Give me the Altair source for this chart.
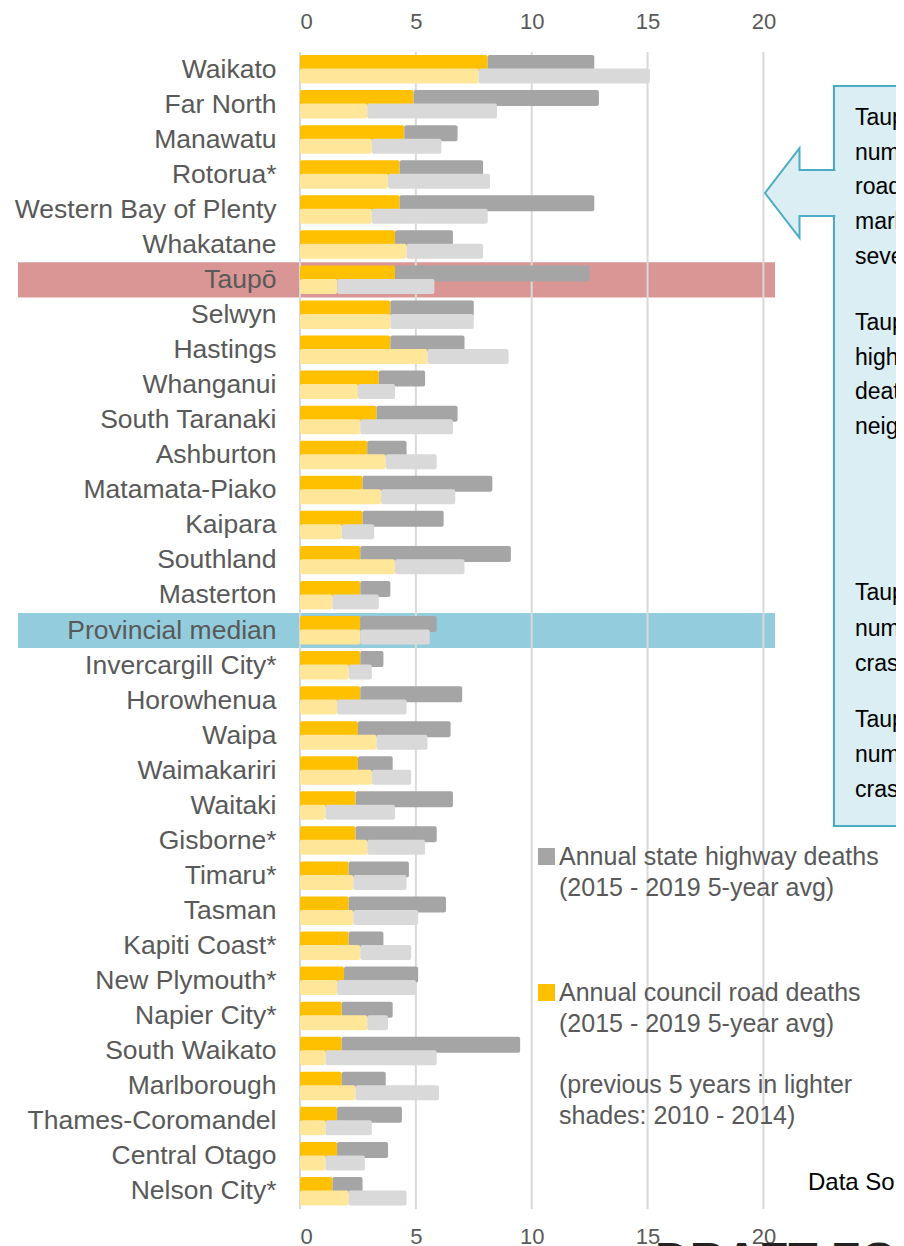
import altair as alt
import pandas as pd

# ---------------- data ----------------
districts = [
    "Waikato", "Far North", "Manawatu", "Rotorua*", "Western Bay of Plenty",
    "Whakatane", "Taupō", "Selwyn", "Hastings", "Whanganui", "South Taranaki",
    "Ashburton", "Matamata-Piako", "Kaipara", "Southland", "Masterton",
    "Provincial median", "Invercargill City*", "Horowhenua", "Waipa",
    "Waimakariri", "Waitaki", "Gisborne*", "Timaru*", "Tasman",
    "Kapiti Coast*", "New Plymouth*", "Napier City*", "South Waikato",
    "Marlborough", "Thames-Coromandel", "Central Otago", "Nelson City*",
]
# 2015 - 2019 5-year averages
council_1519 = [8.1, 4.9, 4.5, 4.3, 4.3, 4.1, 4.1, 3.9, 3.9, 3.4, 3.3,
                2.9, 2.7, 2.7, 2.6, 2.6, 2.6, 2.6, 2.6, 2.5, 2.5, 2.4,
                2.4, 2.1, 2.1, 2.1, 1.9, 1.8, 1.8, 1.8, 1.6, 1.6, 1.4]
state_hwy_1519 = [4.6, 8.0, 2.3, 3.6, 8.4, 2.5, 8.4, 3.6, 3.2, 2.0, 3.5,
                  1.7, 5.6, 3.5, 6.5, 1.3, 3.3, 1.0, 4.4, 4.0, 1.5, 4.2,
                  3.5, 2.6, 4.2, 1.5, 3.2, 2.2, 7.7, 1.9, 2.8, 2.2, 1.3]
# 2010 - 2014 5-year averages (lighter shades)
council_1014 = [7.7, 2.9, 3.1, 3.8, 3.1, 4.6, 1.6, 3.9, 5.5, 2.5, 2.6,
                3.7, 3.5, 1.8, 4.1, 1.4, 2.6, 2.1, 1.6, 3.3, 3.1, 1.1,
                2.9, 2.3, 2.3, 2.6, 1.6, 2.9, 1.1, 2.4, 1.1, 1.1, 2.1]
state_hwy_1014 = [7.4, 5.6, 3.0, 4.4, 5.0, 3.3, 4.2, 3.6, 3.5, 1.6, 4.0,
                  2.2, 3.2, 1.4, 3.0, 2.0, 3.0, 1.0, 3.0, 2.2, 1.7, 3.0,
                  2.5, 2.3, 2.8, 2.2, 3.4, 0.9, 4.8, 3.6, 2.0, 1.7, 2.5]

x_ticks = [0, 5, 10, 15, 20]
periods = ["2015-2019", "2010-2014"]
parts = ["2015-2019 council", "2015-2019 state highway",
         "2010-2014 council", "2010-2014 state highway"]
part_colors = ["#FFC000", "#A5A5A5", "#FFE699", "#D9D9D9"]
highlight = ["Taupō", "Provincial median"]
highlight_colors = ["#D99694", "#93CDDD"]

legend_sh = "Annual state highway deaths\n(2015 - 2019 5-year avg)"
legend_council = "Annual council road deaths\n(2015 - 2019 5-year avg)"
legend_prev = "(previous 5 years in lighter\nshades: 2010 - 2014)"
box_p1 = "Taupō has a high\nnumber of state highway\nroad deaths, with a\nmarked rise over the\nseven years to 2019"
box_p2 = "Taupō has the\nhighest state highway\ndeath rate of its\nneighbouring districts"
box_p3 = "Taupō has a high\nnumber of serious\ncrashes"
box_p4 = "Taupō has a high\nnumber of fatal\ncrashes"
source_text = "Data Source: Waka Kotahi NZ Transport Agency"
draft_text = "DRAFT FOR CONSULTATION"

# ---------------- build table ----------------
rows = []
for i, d in enumerate(districts):
    for period, c, s in ((periods[0], council_1519[i], state_hwy_1519[i]),
                         (periods[1], council_1014[i], state_hwy_1014[i])):
        rows.append(dict(district=d, period=period, part=f"{period} council",
                         start=0.0, end=c))
        rows.append(dict(district=d, period=period, part=f"{period} state highway",
                         start=c, end=round(c + s, 2)))
bars = pd.DataFrame(rows)

FONT = "Liberation Sans"
GREY_TXT = "#595959"
W, H = 475, 1157

x_scale = alt.Scale(domain=[0, 20.5], nice=False, zero=True)
y_scale = alt.Scale(domain=districts, paddingInner=0, paddingOuter=0)
y_axis = alt.Axis(title=None, labelFontSize=26.5, labelColor=GREY_TXT, labelFont=FONT,
                  ticks=False, domain=False, labelPadding=24, zindex=1,
                  labelLimit=400, grid=False)
yoff = alt.YOffset("period:N", scale=alt.Scale(domain=periods, paddingInner=0,
                                               paddingOuter=0.35))
col = alt.Color("part:N", scale=alt.Scale(domain=parts, range=part_colors), legend=None)


def x_axis(orient):
    return alt.Axis(orient=orient, title=None, values=x_ticks, labelFontSize=22,
                    labelColor=GREY_TXT, labelFont=FONT, ticks=False, domain=False,
                    grid=False, labelPadding=19 if orient == "top" else 17)


band = alt.Chart(pd.DataFrame({"district": highlight, "c": highlight_colors})).mark_rect().encode(
    y=alt.Y("district:N", scale=y_scale, axis=y_axis),
    x=alt.value(-282), x2=alt.value(W),
    fill=alt.Fill("c:N", scale=None),
)

grid = alt.Chart(pd.DataFrame({"tick": x_ticks})).mark_rule(color="#D9D9D9", strokeWidth=2).encode(
    x=alt.X("tick:Q", scale=x_scale, axis=x_axis("bottom")),
)

cur = alt.Chart(bars[bars.period == periods[0]]).mark_bar(size=16, cornerRadius=2).encode(
    y=alt.Y("district:N", scale=y_scale, axis=y_axis),
    yOffset=yoff,
    x=alt.X("start:Q", scale=x_scale, axis=x_axis("top")),
    x2="end:Q",
    color=col,
)
prev = alt.Chart(bars[bars.period == periods[1]]).mark_bar(size=15, cornerRadius=2).encode(
    y=alt.Y("district:N", scale=y_scale, axis=y_axis),
    yOffset=yoff,
    x=alt.X("start:Q", scale=x_scale, axis=None),
    x2="end:Q",
    color=col,
)


def one():
    return alt.Chart(pd.DataFrame({"k": [0]}))


def text_block(txt, x, y, size=25, color=GREY_TXT, lh=30.7, weight="normal"):
    # y is the centre of the first line
    return one().mark_text(text=txt, lineBreak="\n", lineHeight=lh, align="left",
                           baseline="middle", font=FONT, fontSize=size, color=color,
                           fontWeight=weight).encode(x=alt.value(x), y=alt.value(y))


legend_sq_sh = one().mark_square(size=289, color="#A5A5A5", opacity=1).encode(
    x=alt.value(246.5), y=alt.value(804.5))
legend_sq_c = one().mark_square(size=289, color="#FFC000", opacity=1).encode(
    x=alt.value(246.5), y=alt.value(940.5))

box = one().mark_rect(fill="#DAEEF3", stroke="#4BACC6", strokeWidth=2).encode(
    x=alt.value(534), x2=alt.value(650), y=alt.value(34), y2=alt.value(774))
arrow = one().mark_point(
    shape="M1.04,-0.67L0,-0.67L0,-1.3L-1,0L0,1.3L0,0.67L1.04,0.67",
    size=4761, filled=True, fill="#DAEEF3", stroke="#4BACC6", strokeWidth=2,
    opacity=1, fillOpacity=1, strokeOpacity=1,
).encode(x=alt.value(499.5), y=alt.value(141))

layers = [
    band, grid, cur, prev,
    legend_sq_sh, legend_sq_c,
    text_block(legend_sh, 259, 805),
    text_block(legend_council, 259, 941),
    text_block(legend_prev, 259, 1033),
    box, arrow,
    text_block(box_p1, 555, 66, size=23, color="#000000", lh=34.7),
    text_block(box_p2, 555, 271, size=23, color="#000000", lh=34.7),
    text_block(box_p3, 555, 541, size=23, color="#000000", lh=35.5),
    text_block(box_p4, 555, 668, size=23, color="#000000", lh=35),
    text_block(source_text, 508, 1131, size=24, color="#000000"),
    one().mark_text(text=draft_text, align="left", baseline="alphabetic", font=FONT,
                    fontSize=48, fontWeight="bold", color="#222222").encode(
        x=alt.value(355), y=alt.value(1224)),
]

chart = alt.layer(*layers).resolve_axis(x="independent").properties(
    width=W, height=H,
    autosize=alt.AutoSizeParams(type="none"),
    padding={"left": 292, "top": 44, "right": 121, "bottom": 37},
).configure_view(stroke=None)

chart.save("out.html", embed_options={"renderer": "svg", "actions": False})
